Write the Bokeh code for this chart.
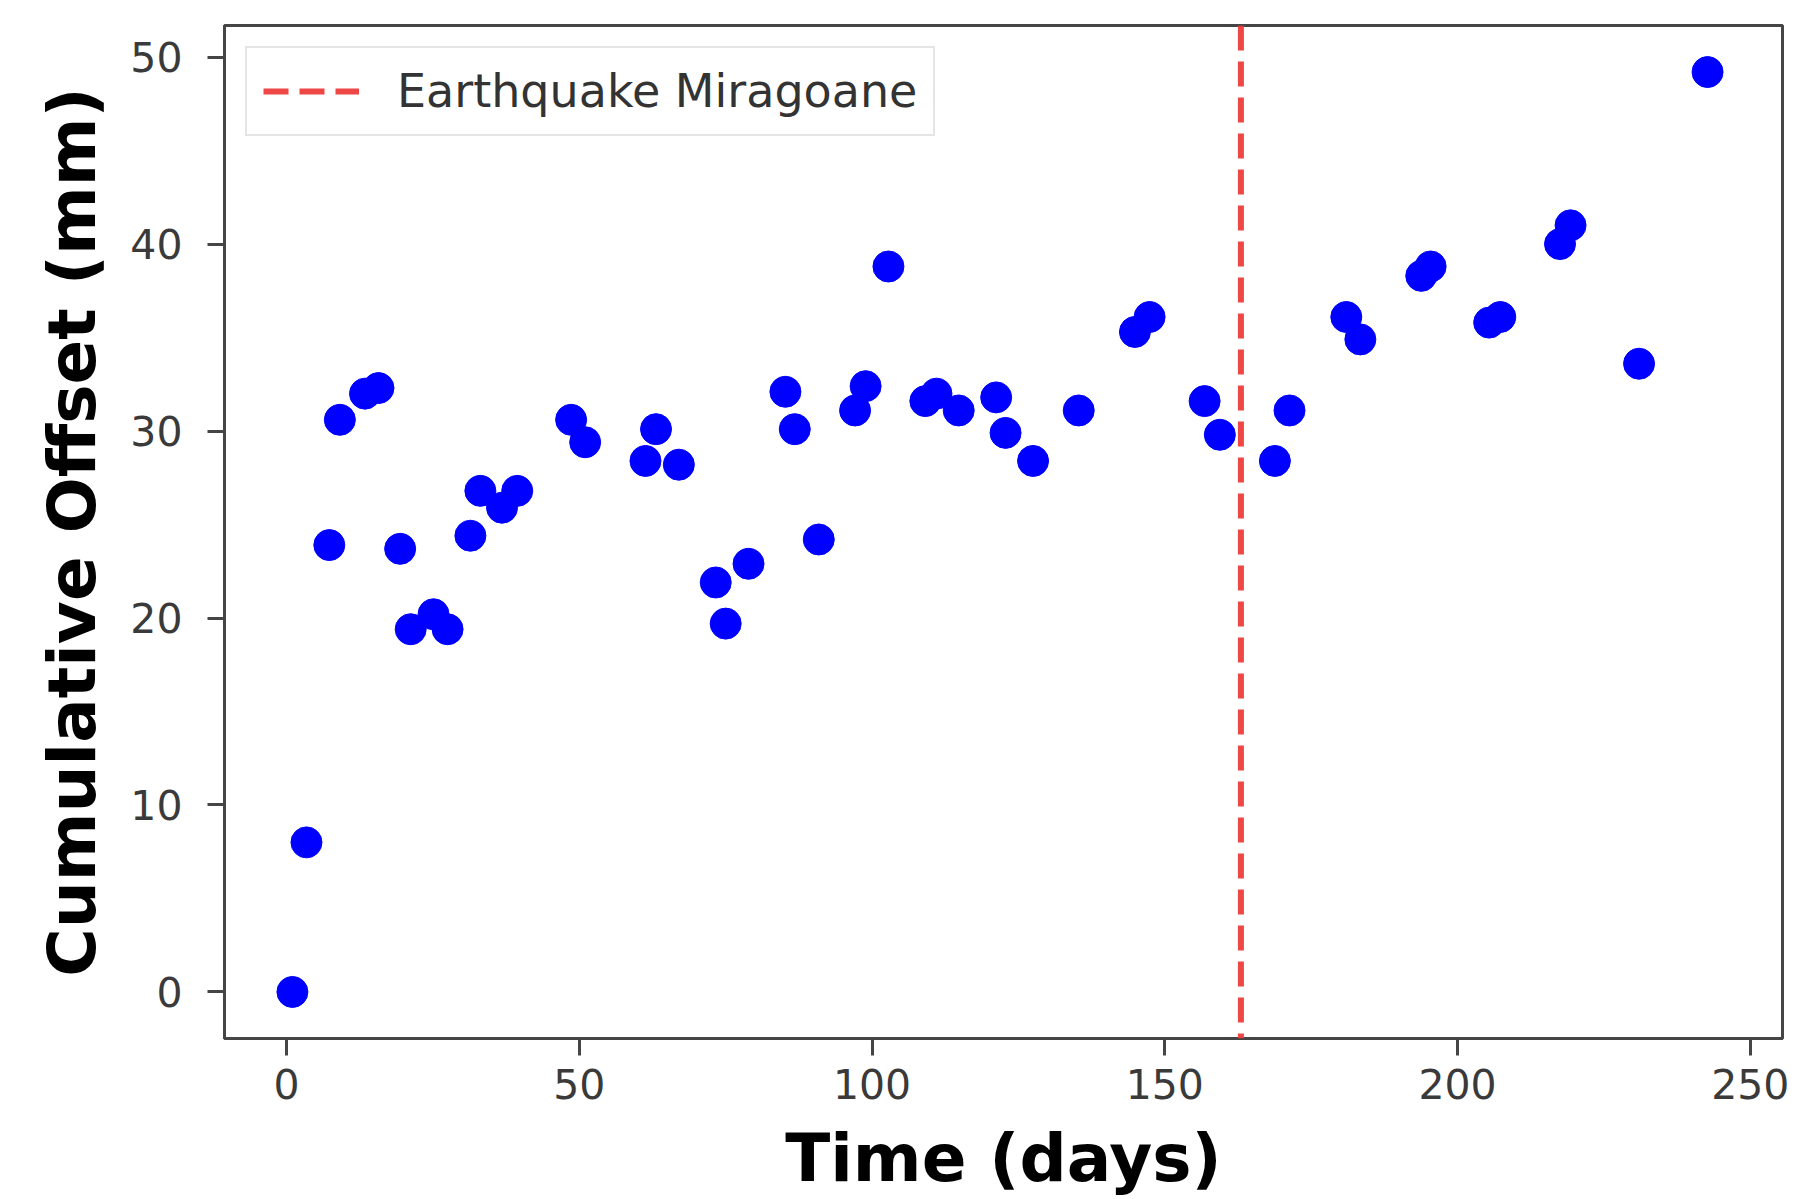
from bokeh.plotting import figure
from bokeh.models import Range1d, Span, Legend, LegendItem, FixedTicker, ColumnDataSource
from bokeh.embed import file_html
from bokeh.resources import INLINE

# ---- data ----
days = [1.0, 3.4, 7.3, 9.1, 13.4, 15.7, 19.4, 21.2, 25.1, 27.5, 31.4, 33.1, 36.8, 39.4,
        48.6, 51.0, 61.3, 63.1, 67.0, 73.3, 75.0, 78.9, 85.2, 86.8, 90.9, 97.1, 98.9,
        102.8, 109.1, 111.0, 114.8, 121.2, 122.8, 127.5, 135.3, 144.9, 147.4, 156.8,
        159.4, 168.8, 171.3, 181.0, 183.4, 193.8, 195.4, 205.4, 207.3, 217.5, 219.3,
        231.0, 242.7]
offset_mm = [0.0, 8.0, 23.9, 30.6, 32.0, 32.3, 23.7, 19.4, 20.2, 19.4, 24.4, 26.8, 25.9, 26.8,
             30.6, 29.4, 28.4, 30.1, 28.2, 21.9, 19.7, 22.9, 32.1, 30.1, 24.2, 31.1, 32.4,
             38.8, 31.6, 32.0, 31.1, 31.8, 29.9, 28.4, 31.1, 35.3, 36.1, 31.6,
             29.8, 28.4, 31.1, 36.1, 34.9, 38.3, 38.8, 35.8, 36.1, 40.0, 41.0,
             33.6, 49.2]
quake_day = 163.0
quake_label = "Earthquake Miragoane"
x_ticks = [0, 50, 100, 150, 200, 250]
y_ticks = [0, 10, 20, 30, 40, 50]

FONT = "DejaVu Sans"
SPINE = "#454545"
RED = "#ee3c3c"

p = figure(width=1797, height=1199, output_backend="svg", toolbar_location=None,
           x_range=Range1d(-10.6, 255.5), y_range=Range1d(-2.49, 51.69),
           min_border_left=224, min_border_right=15, min_border_top=25, min_border_bottom=159)
p.background_fill_color = "white"
p.border_fill_color = "white"
p.outline_line_color = SPINE
p.outline_line_width = 3
p.xgrid.grid_line_color = None
p.ygrid.grid_line_color = None

src = ColumnDataSource(dict(x=days, y=offset_mm))
p.scatter("x", "y", source=src, size=31, fill_color="#0000ff", line_color="#0000ff")

span = Span(location=quake_day, dimension="height", line_color=RED,
            line_width=6, line_dash="25 11", line_alpha=0.95)
p.add_layout(span)
# legend proxy: same style as the span, no visible data in the plot
leg_src = ColumnDataSource(dict(x=[quake_day], y=[float("nan")]))
leg_r = p.line("x", "y", source=leg_src, line_color=RED, line_width=6,
               line_dash="25 11", line_alpha=0.95)

legend = Legend(items=[LegendItem(label=quake_label, renderers=[leg_r])], location="top_left")
legend.margin = 21
legend.padding = 16
legend.glyph_width = 96
legend.glyph_height = 40
legend.label_standoff = 38
legend.label_text_font = FONT
legend.label_text_font_size = "46px"
legend.label_text_color = "#333333"
legend.border_line_color = "#cccccc"
legend.border_line_width = 2
legend.background_fill_alpha = 0.85
p.add_layout(legend)

for ax, ticks in ((p.xaxis, x_ticks), (p.yaxis, y_ticks)):
    ax.ticker = FixedTicker(ticks=ticks)
    ax.axis_line_color = SPINE
    ax.axis_line_width = 3
    ax.major_tick_line_color = SPINE
    ax.major_tick_line_width = 3
    ax.major_tick_out = 17
    ax.major_tick_in = 0
    ax.minor_tick_line_color = None
    ax.major_label_text_font = FONT
    ax.major_label_text_font_size = "41px"
    ax.major_label_text_color = "#3a3a3a"
    ax.axis_label_text_font = FONT
    ax.axis_label_text_font_size = "66px"
    ax.axis_label_text_font_style = "bold"
    ax.axis_label_text_color = "black"

p.xaxis.axis_label = "Time (days)"
p.yaxis.axis_label = "Cumulative Offset (mm)"
p.xaxis.major_label_standoff = 13
p.xaxis.axis_label_standoff = 18
p.yaxis.major_label_standoff = 25
p.yaxis.axis_label_standoff = 16

open("out.html", "w").write(file_html(p, INLINE))
